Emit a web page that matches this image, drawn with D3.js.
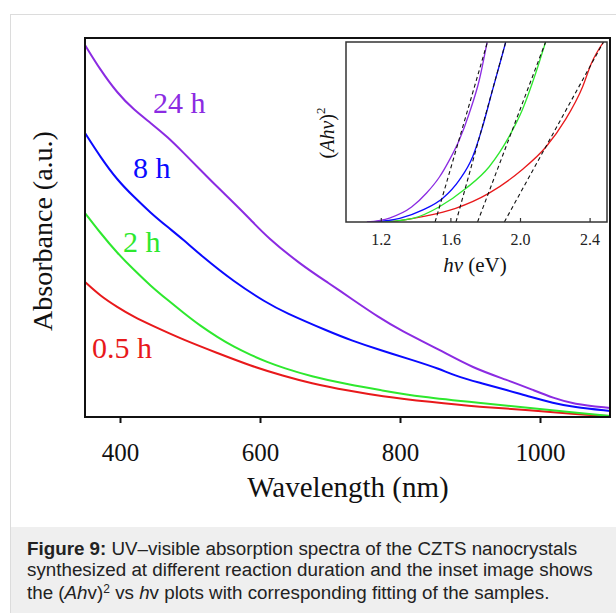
<!DOCTYPE html>
<html>
<head>
<meta charset="utf-8">
<script src="https://cdn.jsdelivr.net/npm/d3@7"></script>
<style>
  body { margin: 0; background: #fff; }
  svg { display: block; }
</style>
</head>
<body>
<div id="chart"></div>
<script>
// sample names + colours
const samples = ["0.5 h", "2 h", "8 h", "24 h"]
const colors = ["#e8191b", "#2ee82e", "#0a0aff", "#8b2be2"]

// main plot: wavelength (nm) / absorbance (a.u.)
const wave_05 = [350, 372, 396, 420, 444, 491, 539, 587, 634, 671, 729, 771, 843, 914, 986, 1047, 1100]
const abs_05 = [1.35, 1.21, 1.10, 1.00, 0.92, 0.77, 0.64, 0.51, 0.41, 0.34, 0.26, 0.21, 0.15, 0.10, 0.07, 0.03, 0.01]
const wave_2 = [350, 372, 396, 420, 444, 468, 491, 515, 539, 563, 587, 610, 634, 671, 729, 771, 829, 914, 986, 1057, 1100]
const abs_2 = [2.04, 1.84, 1.64, 1.47, 1.31, 1.17, 1.04, 0.91, 0.80, 0.70, 0.62, 0.55, 0.49, 0.41, 0.32, 0.27, 0.20, 0.14, 0.09, 0.04, 0.01]
const wave_8 = [350, 372, 396, 420, 444, 468, 491, 515, 563, 610, 634, 700, 729, 771, 818, 857, 876, 914, 953, 986, 1019, 1047, 1100]
const abs_8 = [2.84, 2.60, 2.37, 2.20, 2.04, 1.90, 1.77, 1.62, 1.35, 1.14, 1.05, 0.85, 0.77, 0.67, 0.57, 0.48, 0.42, 0.34, 0.27, 0.20, 0.14, 0.10, 0.06]
const wave_24 = [350, 372, 396, 420, 444, 468, 491, 515, 539, 563, 587, 610, 657, 700, 729, 771, 800, 857, 904, 953, 990, 1019, 1047, 1100]
const abs_24 = [3.72, 3.47, 3.24, 3.07, 2.94, 2.80, 2.64, 2.47, 2.30, 2.14, 1.97, 1.80, 1.53, 1.33, 1.19, 0.99, 0.87, 0.67, 0.49, 0.37, 0.27, 0.19, 0.13, 0.09]
const xTicks = [400, 600, 800, 1000]

// inset: hv (eV) / (Ahv)^2, normalised
const hv_05 = [1.25, 1.44, 1.63, 1.82, 2.01, 2.15, 2.26, 2.36, 2.41, 2.48]
const ahv_05 = [0, 0.03, 0.076, 0.159, 0.289, 0.418, 0.567, 0.752, 0.881, 1.0]
const hv_2 = [1.21, 1.385, 1.537, 1.69, 1.823, 1.937, 2.013, 2.09, 2.147]
const ahv_2 = [0, 0.02, 0.085, 0.187, 0.307, 0.474, 0.622, 0.826, 1.0]
const hv_8 = [1.156, 1.309, 1.442, 1.556, 1.651, 1.728, 1.785, 1.842, 1.89, 1.918]
const ahv_8 = [0, 0.02, 0.067, 0.132, 0.233, 0.363, 0.53, 0.733, 0.9, 1.0]
const hv_24 = [1.12, 1.25, 1.377, 1.463, 1.537, 1.594, 1.651, 1.709, 1.766, 1.811]
const ahv_24 = [0, 0.022, 0.083, 0.161, 0.25, 0.344, 0.456, 0.606, 0.789, 1.0]
// linear fits: x-intercept (band gap) and hv where fit leaves the top
const fit_eg = [1.91, 1.756, 1.632, 1.512]
const fit_top = [2.48, 2.147, 1.918, 1.813]
const insetTicks = [1.2, 1.6, 2.0, 2.4]

const W = 616, H = 613
const svg = d3.select("#chart").append("svg")
    .attr("width", W).attr("height", H)

// page frame + caption box
svg.append("rect").attr("x", 10.5).attr("y", 14.5).attr("width", W).attr("height", H)
    .attr("fill", "#fff").attr("stroke", "#dcdcdc")
svg.append("rect").attr("x", 11).attr("y", 527).attr("width", W).attr("height", H - 527)
    .attr("fill", "#efefef")

const main = { left: 85, right: 610, top: 38, bottom: 417 }
const x = d3.scaleLinear().domain([350, 1100]).range([main.left, main.right])
const y = d3.scaleLinear().domain([0, 3.79]).range([main.bottom, main.top])

const line = d3.line()
    .x(d => x(d[0])).y(d => y(d[1]))
    .curve(d3.curveBasis)

const series = [
    d3.zip(wave_05, abs_05), d3.zip(wave_2, abs_2),
    d3.zip(wave_8, abs_8), d3.zip(wave_24, abs_24)
]

svg.selectAll("path.spec").data(series).join("path")
    .attr("class", "spec")
    .attr("d", line)
    .attr("fill", "none")
    .attr("stroke", (d, i) => colors[i])
    .attr("stroke-width", 2)

// frame
svg.append("rect")
    .attr("x", main.left).attr("y", main.top)
    .attr("width", main.right - main.left).attr("height", main.bottom - main.top)
    .attr("fill", "none").attr("stroke", "#111").attr("stroke-width", 2)

const xAxis = svg.append("g")
    .attr("transform", `translate(0,${main.bottom})`)
    .call(d3.axisBottom(x).tickValues(xTicks).tickSize(6).tickPadding(20).tickFormat(d3.format("d")))
xAxis.select(".domain").remove()
xAxis.selectAll("line").attr("stroke", "#111").attr("stroke-width", 2)
xAxis.selectAll("text").attr("font-family", "Liberation Serif").attr("font-size", 25).attr("fill", "#111")

svg.append("text")
    .attr("x", 348).attr("y", 497)
    .attr("text-anchor", "middle")
    .attr("font-family", "Liberation Serif").attr("font-size", 29).attr("fill", "#111")
    .text("Wavelength (nm)")

svg.append("text")
    .attr("transform", "translate(52,231) rotate(-90)")
    .attr("text-anchor", "middle")
    .attr("font-family", "Liberation Serif").attr("font-size", 28).attr("fill", "#111")
    .text("Absorbance (a.u.)")

// sample labels
const labelPos = [[92, 358], [123, 252], [133, 178], [153, 113]]
svg.selectAll("text.lab").data(samples).join("text")
    .attr("class", "lab")
    .attr("x", (d, i) => labelPos[i][0]).attr("y", (d, i) => labelPos[i][1])
    .attr("font-family", "Liberation Serif").attr("font-size", 30)
    .attr("fill", (d, i) => colors[i])
    .text(d => d)

// ---------- inset ----------
const ins = { left: 346, right: 607, top: 42, bottom: 222 }
const xi = d3.scaleLinear().domain([1.0, 2.5]).range([ins.left, ins.right])
const yi = d3.scaleLinear().domain([0, 1]).range([ins.bottom, ins.top])

svg.append("rect")
    .attr("x", ins.left).attr("y", ins.top)
    .attr("width", ins.right - ins.left).attr("height", ins.bottom - ins.top)
    .attr("fill", "#fff")

svg.append("clipPath").attr("id", "insclip").append("rect")
    .attr("x", ins.left).attr("y", ins.top)
    .attr("width", ins.right - ins.left).attr("height", ins.bottom - ins.top)

const gi = svg.append("g").attr("clip-path", "url(#insclip)")

const lineI = d3.line()
    .x(d => xi(d[0])).y(d => yi(d[1]))
    .curve(d3.curveMonotoneX)

const insetSeries = [
    d3.zip(hv_05, ahv_05), d3.zip(hv_2, ahv_2),
    d3.zip(hv_8, ahv_8), d3.zip(hv_24, ahv_24)
]

gi.selectAll("path.tauc").data(insetSeries).join("path")
    .attr("class", "tauc")
    .attr("d", lineI)
    .attr("fill", "none")
    .attr("stroke", (d, i) => colors[i])
    .attr("stroke-width", 1.3)

gi.selectAll("line.fit").data(fit_eg).join("line")
    .attr("class", "fit")
    .attr("x1", d => xi(d)).attr("y1", yi(0))
    .attr("x2", (d, i) => xi(fit_top[i])).attr("y2", yi(1))
    .attr("stroke", "#111").attr("stroke-width", 1.1)
    .attr("stroke-dasharray", "4,3")

svg.append("rect")
    .attr("x", ins.left).attr("y", ins.top)
    .attr("width", ins.right - ins.left).attr("height", ins.bottom - ins.top)
    .attr("fill", "none").attr("stroke", "#333").attr("stroke-width", 1.5)

const xiAxis = svg.append("g")
    .attr("transform", `translate(0,${ins.bottom})`)
    .call(d3.axisBottom(xi).tickValues(insetTicks).tickSize(-4).tickPadding(12).tickFormat(d3.format(".1f")))
xiAxis.select(".domain").remove()
xiAxis.selectAll("line").attr("stroke", "#333").attr("stroke-width", 1.2)
xiAxis.selectAll("text").attr("font-family", "Liberation Serif").attr("font-size", 16).attr("fill", "#222")

const hvLab = svg.append("text")
    .attr("x", 475).attr("y", 272)
    .attr("text-anchor", "middle")
    .attr("font-family", "Liberation Serif").attr("font-size", 21).attr("fill", "#111")
hvLab.append("tspan").attr("font-style", "italic").text("hv")
hvLab.append("tspan").text(" (eV)")

const ahvLab = svg.append("text")
    .attr("transform", "translate(334,133) rotate(-90)")
    .attr("text-anchor", "middle")
    .attr("font-family", "Liberation Serif").attr("font-size", 20).attr("fill", "#111")
ahvLab.append("tspan").text("(")
ahvLab.append("tspan").attr("font-style", "italic").text("Ahv")
ahvLab.append("tspan").text(")")
ahvLab.append("tspan").attr("font-size", 13).attr("dy", -9).text("2")

// ---------- caption ----------
const cap = svg.append("g")
    .attr("font-family", "Liberation Sans").attr("font-size", 18.8).attr("fill", "#222")
const l1 = cap.append("text").attr("x", 27).attr("y", 555)
l1.append("tspan").attr("font-weight", "bold").text("Figure 9:")
l1.append("tspan").text(" UV\u2013visible absorption spectra of the CZTS nanocrystals")
cap.append("text").attr("x", 27).attr("y", 576)
    .text("synthesized at different reaction duration and the inset image shows")
const l3 = cap.append("text").attr("x", 27).attr("y", 599)
l3.append("tspan").text("the (")
l3.append("tspan").attr("font-style", "italic").text("Ah")
l3.append("tspan").text("v)")
l3.append("tspan").attr("font-size", 12).attr("dy", -6).text("2")
l3.append("tspan").attr("dy", 6).text(" vs ")
l3.append("tspan").attr("font-style", "italic").text("h")
l3.append("tspan").text("v plots with corresponding fitting of the samples.")
</script>
</body>
</html>
